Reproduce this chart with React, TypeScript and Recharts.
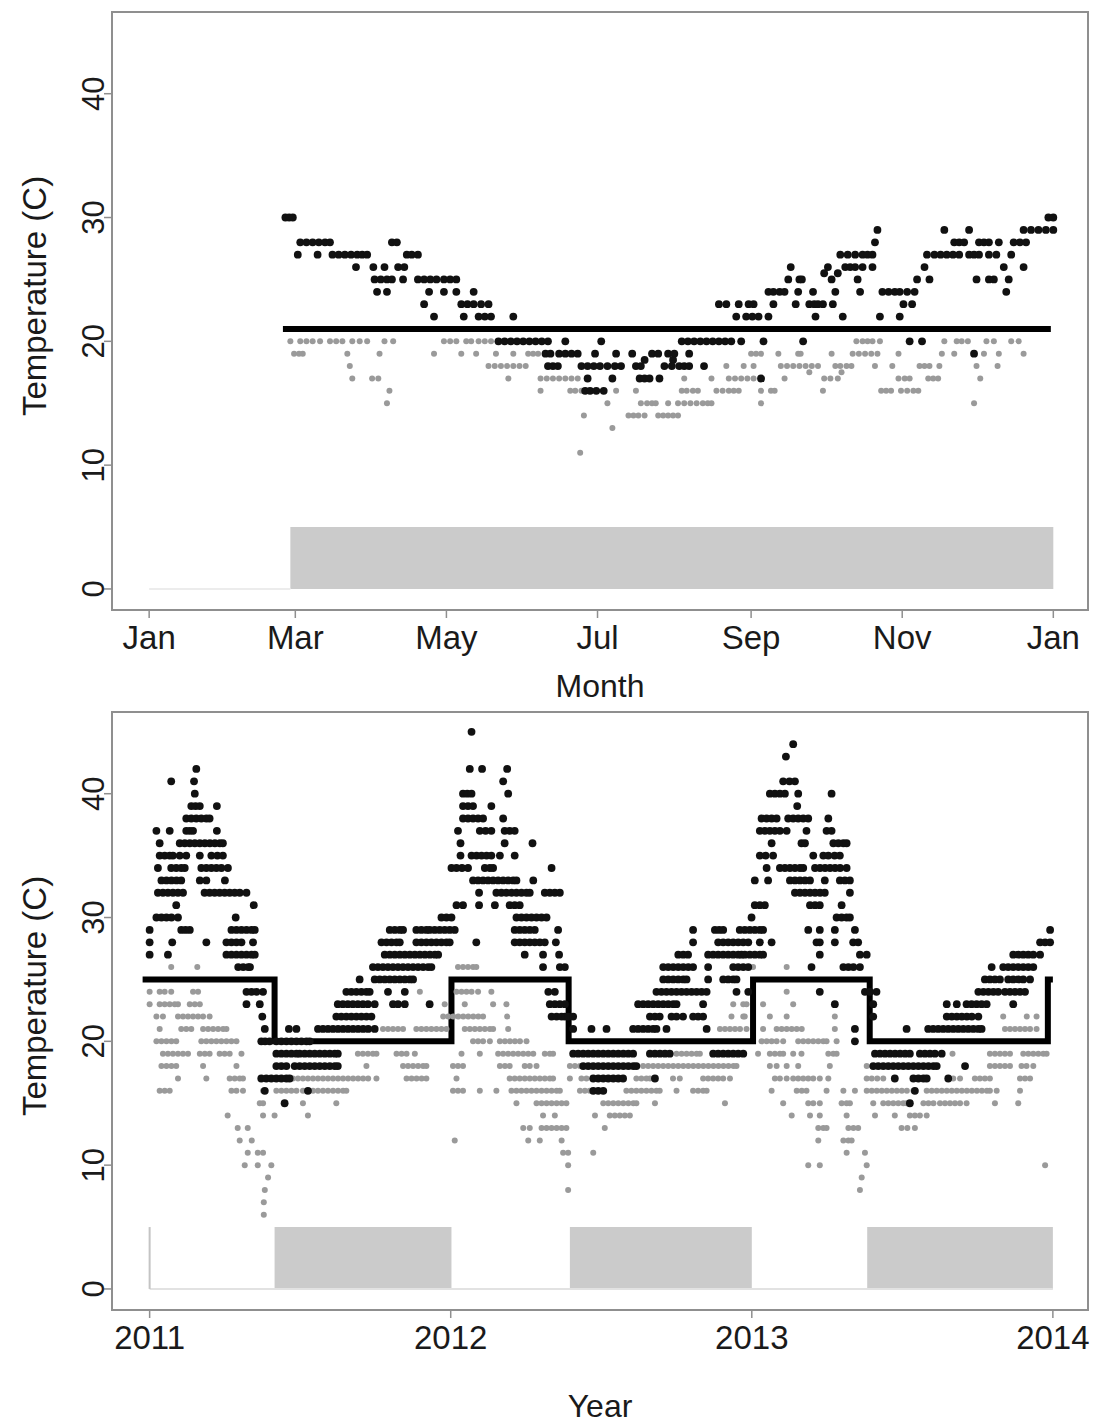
import React from 'react';
import { ComposedChart, Scatter, Line, XAxis, YAxis, ReferenceArea, ReferenceLine, Label } from 'recharts';

const FONT = '"Liberation Sans", Arial, Helvetica, sans-serif';
const BOX = '#8f8f8f';
const GRAY_DOT = '#9a9a9a';
const BLACK_DOT = '#111111';
const SHADE = '#cbcbcb';

// ---------- axes ----------
const monthTicks = [0, 59, 120, 181, 243, 304, 365];
const monthLabels = ['Jan', 'Mar', 'May', 'Jul', 'Sep', 'Nov', 'Jan'];
const yearTicks = [0, 12, 24, 36];
const yearLabels = ['2011', '2012', '2013', '2014'];
const tempTicks = [0, 10, 20, 30, 40];

type Rows = [number, number[]][];

// ---------- top panel (x = day of year) ----------
const topMinRows: Rows = [
  [20, [57, 61, 63.5, 66, 69, 73, 75.5, 78, 82, 85, 88, 95, 98.5, 119, 121.5, 124, 128, 130, 133, 135.5, 138, 285.5, 288, 290, 292, 295, 321, 326, 328, 330.5, 338, 341, 348, 351]],
  [19, [58.5, 60.5, 62, 80, 93, 115, 126, 132, 140, 147, 153, 155, 157, 243, 245, 247, 254, 262, 263, 275.5, 284, 286.5, 289, 291.5, 294, 302.5, 320, 325, 337, 343, 353]],
  [18, [81, 137, 139.5, 142, 144.5, 147, 149.5, 152, 233, 240, 244, 255, 257.5, 260, 262.5, 265, 267.5, 270, 277, 279, 281.5, 283.5, 293, 300, 311, 313, 315, 319, 334, 342.5]],
  [17.5, [266.5, 279.5]],
  [17, [82, 90, 92.5, 145, 158, 160.5, 163, 165.5, 168, 170.5, 173, 216, 227, 234, 236.5, 239, 241.5, 244, 256.5, 272.5, 275, 278, 302.5, 305, 307, 314.5, 316.5, 318.5, 335.5]],
  [16, [97, 158, 170, 172, 174.5, 188.5, 196.5, 215, 217, 219.5, 221.5, 229, 231.5, 234, 236, 238, 247, 251, 252.5, 272, 295.5, 297.5, 299.5, 303.5, 306, 308.5, 310.5]],
  [15, [96, 185, 198.5, 201, 203, 204.5, 209.5, 213.5, 216, 218.5, 221, 223.5, 225.5, 227, 247, 333]],
  [14, [175.5, 193.5, 195.5, 197.5, 200, 205.5, 207.5, 209.5, 211.5, 213.5]],
  [13, [187]],
  [11, [174]],
];

const topMaxRows: Rows = [
  [30, [55, 56.5, 58, 363, 365]],
  [29, [294, 321, 331, 353, 356, 359, 362, 365]],
  [28, [61, 63.5, 66, 68.5, 71, 73, 98, 100, 293, 325, 327, 329, 335, 337, 339, 343, 349, 351.5, 354]],
  [27, [60, 68, 74, 76.5, 79, 81.5, 84, 86, 88, 104, 106, 108.5, 279, 282, 285, 288, 290, 292, 314, 317, 319.5, 322, 324.5, 327, 331, 333, 335, 339, 342, 348]],
  [26, [83.5, 90.5, 95, 100.5, 103, 259, 274, 281, 283, 285, 288, 292, 313, 345, 353]],
  [25.5, [272.5, 278]],
  [25, [91, 93.5, 96, 98, 102.5, 108.5, 111, 113.5, 116, 119, 121.5, 124, 258, 262.5, 263.5, 275.5, 286, 310, 315, 334, 339, 341, 347]],
  [24, [92, 96, 113, 119, 124, 131, 250, 252, 254.5, 256.5, 262, 268, 277, 287, 296, 298.5, 301, 303, 306, 309, 346]],
  [23, [111, 126, 128.5, 131, 134, 137, 230, 233, 238, 242, 244, 252, 261, 266.5, 268.5, 270, 272, 276, 304.5, 308]],
  [22, [115, 127, 133, 135.5, 138, 147, 237, 241, 243.5, 246, 250, 269, 280, 295, 303]],
  [20, [141, 143.5, 146, 148.5, 151, 153.5, 156, 158.5, 161, 168, 182.5, 215, 217.5, 220, 222.5, 225, 227.5, 230, 232.5, 235, 239, 248, 264, 307, 312]],
  [19, [160, 162, 165.5, 168, 170.5, 173, 180, 188.5, 195, 203, 205.5, 209.5, 212, 218, 333]],
  [18.5, [200, 211.5]],
  [18, [161, 163, 165, 174.5, 177, 179.5, 182, 185, 188, 190.5, 196.5, 198.5, 208, 211, 214, 216, 218, 224]],
  [17, [177, 187, 198, 200, 202, 206, 247]],
  [16, [176, 178, 180.5, 183.5]],
];

const topStepX = [54, 364];
const topStepY = [21, 21];
const topShadeStart = [57];
const topShadeEnd = [365];

// ---------- bottom panel (x = months since Jan 2011) ----------
const botMinRows: Rows = [
  [26, [0.86, 1.9, 12.29, 12.49, 12.69, 12.89, 13.02, 24.05, 25.39]],
  [24, [0.0, 0.4, 0.6, 0.86, 1.73, 1.93, 10.77, 12.23, 12.43, 12.63, 12.83, 13.09, 13.62, 25.39]],
  [23, [0.0, 0.4, 0.6, 0.8, 1.0, 1.13, 1.6, 1.8, 2.0, 11.76, 12.56, 13.69, 14.22, 23.26, 23.66, 23.79, 24.45, 25.65]],
  [22, [0.27, 0.53, 1.13, 1.33, 1.53, 1.73, 1.93, 2.13, 2.39, 11.7, 11.9, 12.1, 12.3, 12.5, 12.7, 12.9, 13.1, 13.29, 14.25, 23.19, 23.66, 23.72, 24.72, 25.39, 27.31, 34.02, 34.96, 35.35]],
  [21, [0.4, 1.26, 1.46, 1.66, 2.13, 2.33, 2.53, 2.73, 2.93, 3.06, 9.3, 9.5, 9.7, 9.9, 10.1, 10.63, 10.83, 11.03, 11.23, 11.43, 11.63, 11.83, 12.56, 12.76, 12.96, 13.16, 13.36, 13.56, 13.69, 14.29, 22.73, 22.93, 23.13, 23.33, 23.53, 23.79, 24.45, 24.99, 25.19, 25.39, 25.59, 25.79, 25.99, 27.31, 34.09, 34.29, 34.49, 34.69, 34.89, 35.09, 35.35]],
  [20, [0.27, 0.47, 0.67, 0.87, 1.06, 2.06, 2.26, 2.46, 2.66, 2.86, 3.06, 3.26, 3.46, 12.89, 13.09, 13.29, 13.56, 13.96, 14.16, 14.36, 14.56, 14.76, 15.02, 24.39, 24.59, 24.79, 24.99, 25.25, 25.85, 26.05, 26.25, 26.45, 26.65, 26.85, 26.98, 27.38]],
  [19, [0.53, 0.73, 0.93, 1.13, 1.33, 1.53, 2.0, 2.2, 2.39, 2.79, 2.99, 3.19, 3.66, 8.3, 8.5, 8.7, 8.9, 9.04, 9.84, 10.04, 10.24, 10.57, 12.43, 13.16, 13.89, 14.09, 14.29, 14.49, 14.69, 14.89, 15.09, 15.29, 15.75, 15.95, 16.08, 21.0, 21.2, 21.4, 21.6, 21.8, 21.93, 23.59, 24.25, 24.72, 24.92, 25.12, 25.25, 25.65, 25.98, 27.05, 27.25, 27.38, 32.0, 33.49, 33.69, 33.89, 34.09, 34.29, 34.82, 35.02, 35.22, 35.42, 35.62, 35.75]],
  [18, [0.47, 0.67, 0.87, 1.06, 2.13, 3.46, 8.64, 10.1, 10.3, 10.5, 10.7, 10.9, 11.03, 12.09, 12.29, 12.49, 13.96, 14.16, 14.35, 14.95, 15.15, 15.42, 16.75, 16.95, 17.15, 19.67, 19.87, 20.07, 20.27, 20.47, 20.67, 20.87, 21.07, 21.27, 21.47, 21.67, 21.87, 22.07, 22.27, 22.47, 22.67, 22.87, 23.07, 23.27, 23.39, 24.72, 24.99, 25.39, 25.85, 27.11, 28.58, 33.49, 33.69, 33.89, 34.09, 34.29, 34.75, 34.95, 35.22]],
  [17, [1.13, 2.26, 3.19, 3.39, 3.59, 3.72, 5.71, 5.91, 6.11, 6.31, 6.51, 6.71, 6.91, 7.11, 7.31, 7.51, 7.71, 7.91, 8.11, 8.31, 8.51, 8.71, 9.04, 10.24, 10.44, 10.64, 10.84, 11.03, 12.23, 14.35, 14.55, 14.75, 14.95, 15.15, 15.35, 15.55, 15.75, 15.95, 16.08, 16.75, 17.21, 17.41, 19.4, 19.6, 19.8, 19.94, 20.86, 21.13, 22.06, 22.26, 22.46, 22.66, 22.86, 23.13, 24.92, 25.12, 25.39, 25.65, 25.85, 26.05, 26.25, 26.45, 26.71, 27.05, 28.58, 28.78, 29.0, 29.24, 32.03, 32.3, 32.89, 33.09, 33.29, 33.49, 34.69, 34.89, 35.09]],
  [16, [0.4, 0.6, 0.8, 3.26, 3.46, 3.72, 4.52, 5.05, 5.25, 5.45, 5.65, 5.85, 6.11, 6.51, 6.71, 6.91, 7.11, 7.31, 7.51, 7.71, 7.84, 12.09, 12.29, 12.49, 13.16, 13.82, 14.42, 14.62, 14.82, 15.02, 15.22, 15.42, 15.62, 15.82, 16.02, 16.22, 16.35, 17.15, 17.35, 17.54, 19.0, 19.2, 19.4, 19.6, 19.8, 20.0, 20.2, 20.33, 21.0, 21.66, 21.86, 22.06, 22.2, 24.79, 25.79, 25.99, 26.18, 26.98, 27.65, 28.11, 28.58, 28.78, 28.98, 29.18, 29.38, 29.58, 29.78, 29.98, 30.18, 30.44, 30.97, 31.17, 31.37, 31.57, 31.77, 31.97, 32.17, 32.37, 32.57, 32.77, 32.97, 33.17, 33.37, 33.49, 33.76, 34.69]],
  [15, [4.39, 4.52, 6.11, 7.44, 14.62, 15.42, 15.62, 15.82, 16.02, 16.22, 16.42, 16.61, 18.08, 18.28, 18.48, 18.68, 18.88, 19.08, 19.28, 19.4, 20.14, 22.93, 25.25, 26.25, 26.45, 26.71, 27.58, 27.78, 27.91, 28.84, 29.24, 29.44, 29.64, 29.84, 30.04, 30.17, 30.84, 31.04, 31.24, 31.5, 31.7, 31.9, 32.1, 32.3, 32.56, 33.69, 34.62]],
  [14, [3.11, 4.52, 4.98, 6.31, 15.68, 16.15, 17.75, 18.34, 18.54, 18.74, 18.94, 19.14, 25.59, 26.32, 26.71, 27.78, 28.91, 29.7, 30.3, 30.5, 30.7, 30.97]],
  [13, [3.51, 3.91, 14.89, 15.15, 15.62, 15.82, 16.02, 16.22, 16.42, 16.61, 18.14, 26.65, 26.85, 26.98, 27.85, 28.05, 28.24, 29.97, 30.2, 30.5]],
  [12, [3.59, 4.07, 12.16, 15.09, 15.55, 16.42, 26.65, 27.65, 27.85, 27.98]],
  [11, [3.91, 4.31, 4.52, 16.48, 16.68, 17.68, 27.78, 28.51]],
  [10, [3.79, 4.31, 4.85, 16.68, 26.25, 26.71, 28.58, 35.69]],
  [9, [4.72, 28.38]],
  [8, [4.59, 16.68, 28.31]],
  [7, [4.55]],
  [6, [4.55]],
];

const botMaxRows: Rows = [
  [45, [12.83]],
  [44, [25.65]],
  [43, [25.36]],
  [42, [1.86, 12.76, 13.25, 14.25]],
  [41, [0.86, 1.77, 14.09, 25.25, 25.5, 25.72]],
  [40, [1.8, 12.49, 12.66, 12.83, 14.29, 24.72, 24.92, 25.12, 25.32, 25.85, 27.18]],
  [39, [1.66, 1.83, 2.0, 2.68, 12.49, 12.69, 12.89, 13.62, 25.81]],
  [38, [1.46, 1.66, 1.86, 2.06, 2.26, 2.39, 12.49, 12.69, 12.89, 13.09, 13.29, 14.09, 24.39, 24.59, 24.79, 24.99, 25.45, 25.65, 25.85, 26.05, 26.25, 27.05]],
  [37, [0.27, 0.8, 1.46, 1.6, 1.73, 2.68, 12.29, 13.16, 13.39, 13.62, 14.15, 14.35, 14.55, 24.32, 24.52, 24.72, 24.92, 25.12, 25.39, 26.18, 26.98, 27.18]],
  [36, [0.4, 1.2, 1.4, 1.6, 1.8, 2.0, 2.2, 2.4, 2.6, 2.8, 2.92, 12.39, 14.15, 15.26, 24.79, 25.98, 26.12, 27.25, 27.45, 27.65, 27.78]],
  [35, [0.4, 0.6, 0.8, 0.93, 1.2, 1.46, 2.0, 2.46, 2.7, 2.92, 12.39, 12.83, 13.03, 13.23, 13.43, 13.62, 13.96, 14.55, 24.32, 24.55, 24.85, 26.45, 26.85, 27.05, 27.3, 27.51]],
  [34, [0.33, 0.86, 1.06, 1.26, 1.4, 2.06, 2.26, 2.46, 2.66, 2.86, 3.12, 12.03, 12.23, 12.45, 12.69, 13.36, 13.56, 13.69, 16.02, 24.59, 25.12, 25.32, 25.52, 25.72, 25.92, 26.05, 26.52, 26.72, 26.92, 27.12, 27.32, 27.52, 27.78]],
  [33, [0.47, 0.67, 0.87, 1.07, 1.26, 2.0, 2.26, 3.0, 12.89, 13.09, 13.29, 13.49, 13.69, 13.89, 14.09, 14.29, 14.49, 14.62, 15.29, 24.12, 24.65, 25.52, 25.72, 25.92, 26.12, 26.32, 26.91, 27.51, 27.71, 27.91]],
  [32, [0.33, 0.53, 0.73, 0.93, 1.13, 1.33, 2.19, 2.39, 2.59, 2.79, 2.99, 3.19, 3.39, 3.59, 3.86, 13.13, 13.82, 14.02, 14.22, 14.42, 14.62, 14.82, 15.02, 15.15, 15.75, 15.95, 16.15, 16.35, 25.72, 25.92, 26.12, 26.32, 26.52, 26.72, 26.91, 27.91]],
  [31, [1.06, 4.15, 12.23, 12.49, 13.13, 13.76, 14.35, 14.55, 14.75, 24.12, 24.32, 24.52, 26.32, 26.52, 26.71, 27.58]],
  [30, [0.27, 0.47, 0.67, 0.87, 1.13, 3.43, 11.63, 11.83, 12.03, 14.62, 14.82, 15.02, 15.22, 15.42, 15.62, 15.82, 23.99, 27.38, 27.58, 27.78, 27.91]],
  [29, [0.0, 1.26, 1.43, 1.6, 3.26, 3.46, 3.66, 3.86, 4.06, 4.19, 9.57, 9.77, 9.97, 10.1, 10.63, 10.83, 11.03, 11.16, 11.36, 11.56, 11.76, 11.96, 12.16, 14.55, 14.75, 14.95, 15.15, 15.35, 16.28, 21.66, 22.53, 22.7, 22.86, 23.52, 23.72, 23.92, 24.12, 24.32, 24.45, 26.25, 26.71, 27.31, 28.11, 35.89]],
  [28, [0.0, 0.9, 2.26, 3.06, 3.26, 3.46, 3.66, 4.12, 9.24, 9.44, 9.64, 9.84, 9.97, 10.63, 10.83, 11.03, 11.23, 11.43, 11.63, 11.83, 11.96, 13.02, 14.55, 14.75, 14.95, 15.15, 15.35, 15.55, 15.75, 16.19, 21.66, 22.66, 22.86, 23.06, 23.26, 23.46, 23.66, 23.86, 24.32, 24.79, 26.58, 26.71, 27.31, 28.04, 28.24, 35.49, 35.69, 35.89]],
  [27, [0.0, 0.73, 3.06, 3.26, 3.46, 3.66, 3.86, 4.06, 4.19, 9.37, 9.57, 9.77, 9.97, 10.17, 10.37, 10.57, 10.77, 10.97, 11.17, 11.37, 11.5, 14.95, 15.68, 16.32, 21.07, 21.27, 21.46, 22.26, 22.46, 22.66, 22.86, 23.06, 23.26, 23.46, 23.59, 23.72, 23.92, 24.12, 24.32, 24.45, 26.71, 28.31, 28.58, 34.42, 34.62, 34.82, 35.02, 35.22, 35.49]],
  [26, [3.53, 3.73, 3.93, 4.0, 8.9, 9.1, 9.3, 9.5, 9.7, 9.9, 10.1, 10.3, 10.5, 10.7, 10.9, 11.1, 11.23, 15.68, 16.35, 16.55, 20.47, 20.67, 20.87, 21.07, 21.27, 21.47, 21.66, 22.26, 23.26, 23.46, 23.66, 23.86, 26.38, 27.65, 27.85, 28.05, 28.31, 33.56, 34.02, 34.22, 34.42, 34.62, 34.82, 35.02, 35.22]],
  [25, [8.37, 8.97, 9.17, 9.37, 9.57, 9.77, 9.97, 10.17, 10.37, 10.5, 20.47, 20.67, 20.87, 21.07, 21.27, 21.4, 22.26, 22.86, 23.06, 23.26, 23.39, 33.29, 33.49, 33.69, 33.89, 34.22, 34.42, 34.62, 34.82, 35.09]],
  [24, [3.86, 4.06, 4.26, 4.52, 7.84, 8.04, 8.24, 8.44, 8.64, 8.77, 9.5, 10.17, 15.89, 16.15, 20.2, 20.4, 20.6, 20.8, 21.0, 21.2, 21.4, 21.6, 21.8, 22.0, 22.2, 23.39, 23.86, 26.71, 28.51, 28.71, 28.97, 33.03, 33.23, 33.43, 33.63, 33.82, 34.09, 34.29, 34.49, 34.69, 34.89]],
  [23, [3.86, 4.39, 7.5, 7.7, 7.9, 8.1, 8.3, 8.5, 8.7, 8.97, 9.7, 9.9, 10.17, 11.16, 15.95, 16.15, 16.35, 16.55, 19.47, 19.67, 19.87, 20.07, 20.27, 20.47, 20.67, 20.87, 21.0, 22.06, 27.31, 28.84, 31.77, 32.17, 32.56, 32.76, 32.96, 33.16, 33.36, 34.42]],
  [22, [4.49, 7.44, 7.64, 7.84, 8.04, 8.24, 8.44, 8.64, 8.84, 16.02, 16.22, 16.42, 16.55, 16.68, 16.88, 19.94, 20.14, 20.33, 20.8, 21.0, 21.26, 21.66, 21.86, 22.06, 28.84, 31.77, 31.97, 32.17, 32.37, 32.57, 32.77, 33.03]],
  [21, [4.59, 5.55, 5.85, 6.71, 6.91, 7.11, 7.31, 7.51, 7.71, 7.91, 8.11, 8.31, 8.51, 8.71, 8.97, 16.88, 17.61, 18.21, 19.27, 19.47, 19.67, 19.87, 20.07, 20.2, 20.6, 22.2, 28.11, 30.17, 31.03, 31.23, 31.43, 31.63, 31.83, 32.03, 32.23, 32.43, 32.63, 32.83, 33.03, 33.16]],
  [20, [4.45, 4.6, 4.78, 5.05, 5.25, 5.45, 5.65, 5.85, 6.05, 6.25, 6.38, 28.11]],
  [19, [5.05, 5.25, 5.45, 5.65, 5.85, 5.98, 6.18, 6.38, 6.58, 6.78, 6.98, 7.18, 7.38, 7.5, 16.88, 17.08, 17.28, 17.48, 17.68, 17.88, 18.08, 18.28, 18.48, 18.68, 18.88, 19.08, 19.27, 19.94, 20.14, 20.34, 20.54, 20.73, 22.46, 22.66, 22.86, 23.06, 23.26, 23.46, 23.66, 28.91, 29.11, 29.31, 29.51, 29.71, 29.91, 30.11, 30.3, 30.7, 30.9, 31.1, 31.3, 31.57]],
  [18, [5.05, 5.25, 5.45, 5.78, 5.98, 6.18, 6.38, 6.58, 6.78, 6.98, 7.18, 7.38, 7.5, 17.28, 17.48, 17.68, 17.88, 18.08, 18.28, 18.48, 18.68, 18.88, 19.08, 19.28, 19.4, 28.84, 29.04, 29.24, 29.44, 29.64, 29.84, 30.04, 30.24, 30.44, 30.64, 30.84, 31.04, 31.24, 31.37, 32.5]],
  [17, [4.45, 4.65, 4.85, 5.05, 5.25, 5.45, 5.58, 17.68, 17.88, 18.08, 18.28, 18.48, 18.68, 18.87, 20.14, 29.7, 30.44, 30.64, 30.84, 30.97, 31.83]],
  [16, [4.59, 6.31, 17.68, 17.88, 18.08, 30.5]],
  [15, [5.38, 30.3]],
];

const botStepX = [-0.28, 4.98, 12.03, 16.7, 24.05, 28.7, 35.8, 36.0];
const botStepY = [25, 20, 25, 20, 25, 20, 25, 25];
const botShadeStart = [4.98, 16.75, 28.6];
const botShadeEnd = [12.03, 24.0, 36.0];

// ---------- helpers ----------
const toPts = (rows: Rows) => rows.flatMap(([t, xs]) => xs.map((x) => ({ x, y: t })));
const toLine = (xs: number[], ys: number[]) => xs.map((x, i) => ({ x, y: ys[i] }));

const blackDot = (p: any) => <circle cx={p.cx} cy={p.cy} r={3.9} fill={BLACK_DOT} />;
const grayDot = (p: any) => <circle cx={p.cx} cy={p.cy} r={3.0} fill={GRAY_DOT} />;

const PLOT_BOTTOM = 610;
const TEMP_DOMAIN: [number, number] = [-1.7, 46.6];

const makeXTick = (labels: string[], ticks: number[]) => (p: any) => {
  const idx = ticks.indexOf(p.payload.value);
  return (
    <text x={p.x} y={PLOT_BOTTOM + 39} textAnchor="middle" fontFamily={FONT} fontSize={33} fill="#1a1a1a">
      {labels[idx]}
    </text>
  );
};

const YTick = (p: any) => (
  <text
    x={104}
    y={p.y}
    transform={`rotate(-90 104 ${p.y})`}
    textAnchor="middle"
    fontFamily={FONT}
    fontSize={31}
    fill="#1a1a1a"
  >
    {p.payload.value}
  </text>
);

const yTitle = () => (
  <text x={46} y={296} transform="rotate(-90 46 296)" textAnchor="middle" fontFamily={FONT} fontSize={33} fill="#1a1a1a">
    Temperature (C)
  </text>
);

interface PanelProps {
  height: number;
  xDomain: [number, number];
  xTicks: number[];
  xLabels: string[];
  xTitle: string;
  xTitleY: number;
  gray: { x: number; y: number }[];
  black: { x: number; y: number }[];
  step: { x: number; y: number }[];
  shadeStart: number[];
  shadeEnd: number[];
  extra?: React.ReactNode;
}

function Panel(props: PanelProps) {
  const { height, xDomain, xTicks, xLabels, xTitle, xTitleY, gray, black, step, shadeStart, shadeEnd } = props;
  return (
    <ComposedChart width={1104} height={height} margin={{ top: 12, right: 16, bottom: 0, left: 0 }} style={{ overflow: 'visible' }}>
      <XAxis
        type="number"
        dataKey="x"
        domain={xDomain}
        ticks={xTicks}
        interval={0}
        height={height - PLOT_BOTTOM}
        axisLine={{ stroke: BOX, strokeWidth: 2 }}
        tickLine={{ stroke: BOX, strokeWidth: 1.5 }}
        tickSize={8}
        tick={makeXTick(xLabels, xTicks)}
        allowDataOverflow
      >
        <Label
          content={() => (
            <text x={600} y={xTitleY} textAnchor="middle" fontFamily={FONT} fontSize={32} fill="#1a1a1a">
              {xTitle}
            </text>
          )}
        />
      </XAxis>
      <YAxis
        type="number"
        dataKey="y"
        domain={TEMP_DOMAIN}
        ticks={tempTicks}
        interval={0}
        width={112}
        axisLine={{ stroke: BOX, strokeWidth: 2 }}
        tickLine={{ stroke: BOX, strokeWidth: 1.5 }}
        tickSize={8}
        tick={YTick}
        allowDataOverflow
      >
        <Label content={yTitle} />
      </YAxis>
      <ReferenceArea
        x1={xDomain[0]}
        x2={xDomain[1]}
        y1={TEMP_DOMAIN[0]}
        y2={TEMP_DOMAIN[1]}
        fill="none"
        fillOpacity={0}
        stroke={BOX}
        strokeWidth={2}
        ifOverflow="visible"
      />
      {shadeStart.map((s, i) => (
        <ReferenceArea key={'sh' + i} x1={s} x2={shadeEnd[i]} y1={0} y2={5} fill={SHADE} fillOpacity={1} stroke="none" />
      ))}
      {props.extra}
      <Scatter data={gray} dataKey="y" shape={grayDot} isAnimationActive={false} />
      <Scatter data={black} dataKey="y" shape={blackDot} isAnimationActive={false} />
      <Line data={step} dataKey="y" type="stepAfter" stroke="#000" strokeWidth={6} dot={false} activeDot={false} isAnimationActive={false} />
    </ComposedChart>
  );
}

export default function App() {
  return (
    <div style={{ position: 'absolute', left: 0, top: 0, width: 1104, height: 1425, background: '#fff' }}>
      <div style={{ position: 'absolute', left: 0, top: 0 }}>
        <Panel
          height={710}
          xDomain={[-15, 379]}
          xTicks={monthTicks}
          xLabels={monthLabels}
          xTitle="Month"
          xTitleY={697}
          gray={toPts(topMinRows)}
          black={toPts(topMaxRows)}
          step={toLine(topStepX, topStepY)}
          shadeStart={topShadeStart}
          shadeEnd={topShadeEnd}
          extra={<ReferenceLine segment={[{ x: 0, y: 0 }, { x: topShadeStart[0], y: 0 }]} stroke="#ececec" strokeWidth={2} />}
        />
      </div>
      <div style={{ position: 'absolute', left: 0, top: 700 }}>
        <Panel
          height={725}
          xDomain={[-1.5, 37.4]}
          xTicks={yearTicks}
          xLabels={yearLabels}
          xTitle="Year"
          xTitleY={717}
          gray={toPts(botMinRows)}
          black={toPts(botMaxRows)}
          step={toLine(botStepX, botStepY)}
          shadeStart={botShadeStart}
          shadeEnd={botShadeEnd}
          extra={[
            <ReferenceLine key="b0" segment={[{ x: 0, y: 0 }, { x: 36, y: 0 }]} stroke="#e2e2e2" strokeWidth={2} />,
            <ReferenceLine key="b1" segment={[{ x: 0, y: 0 }, { x: 0, y: 5 }]} stroke="#c4c4c4" strokeWidth={2} />,
          ]}
        />
      </div>
    </div>
  );
}
